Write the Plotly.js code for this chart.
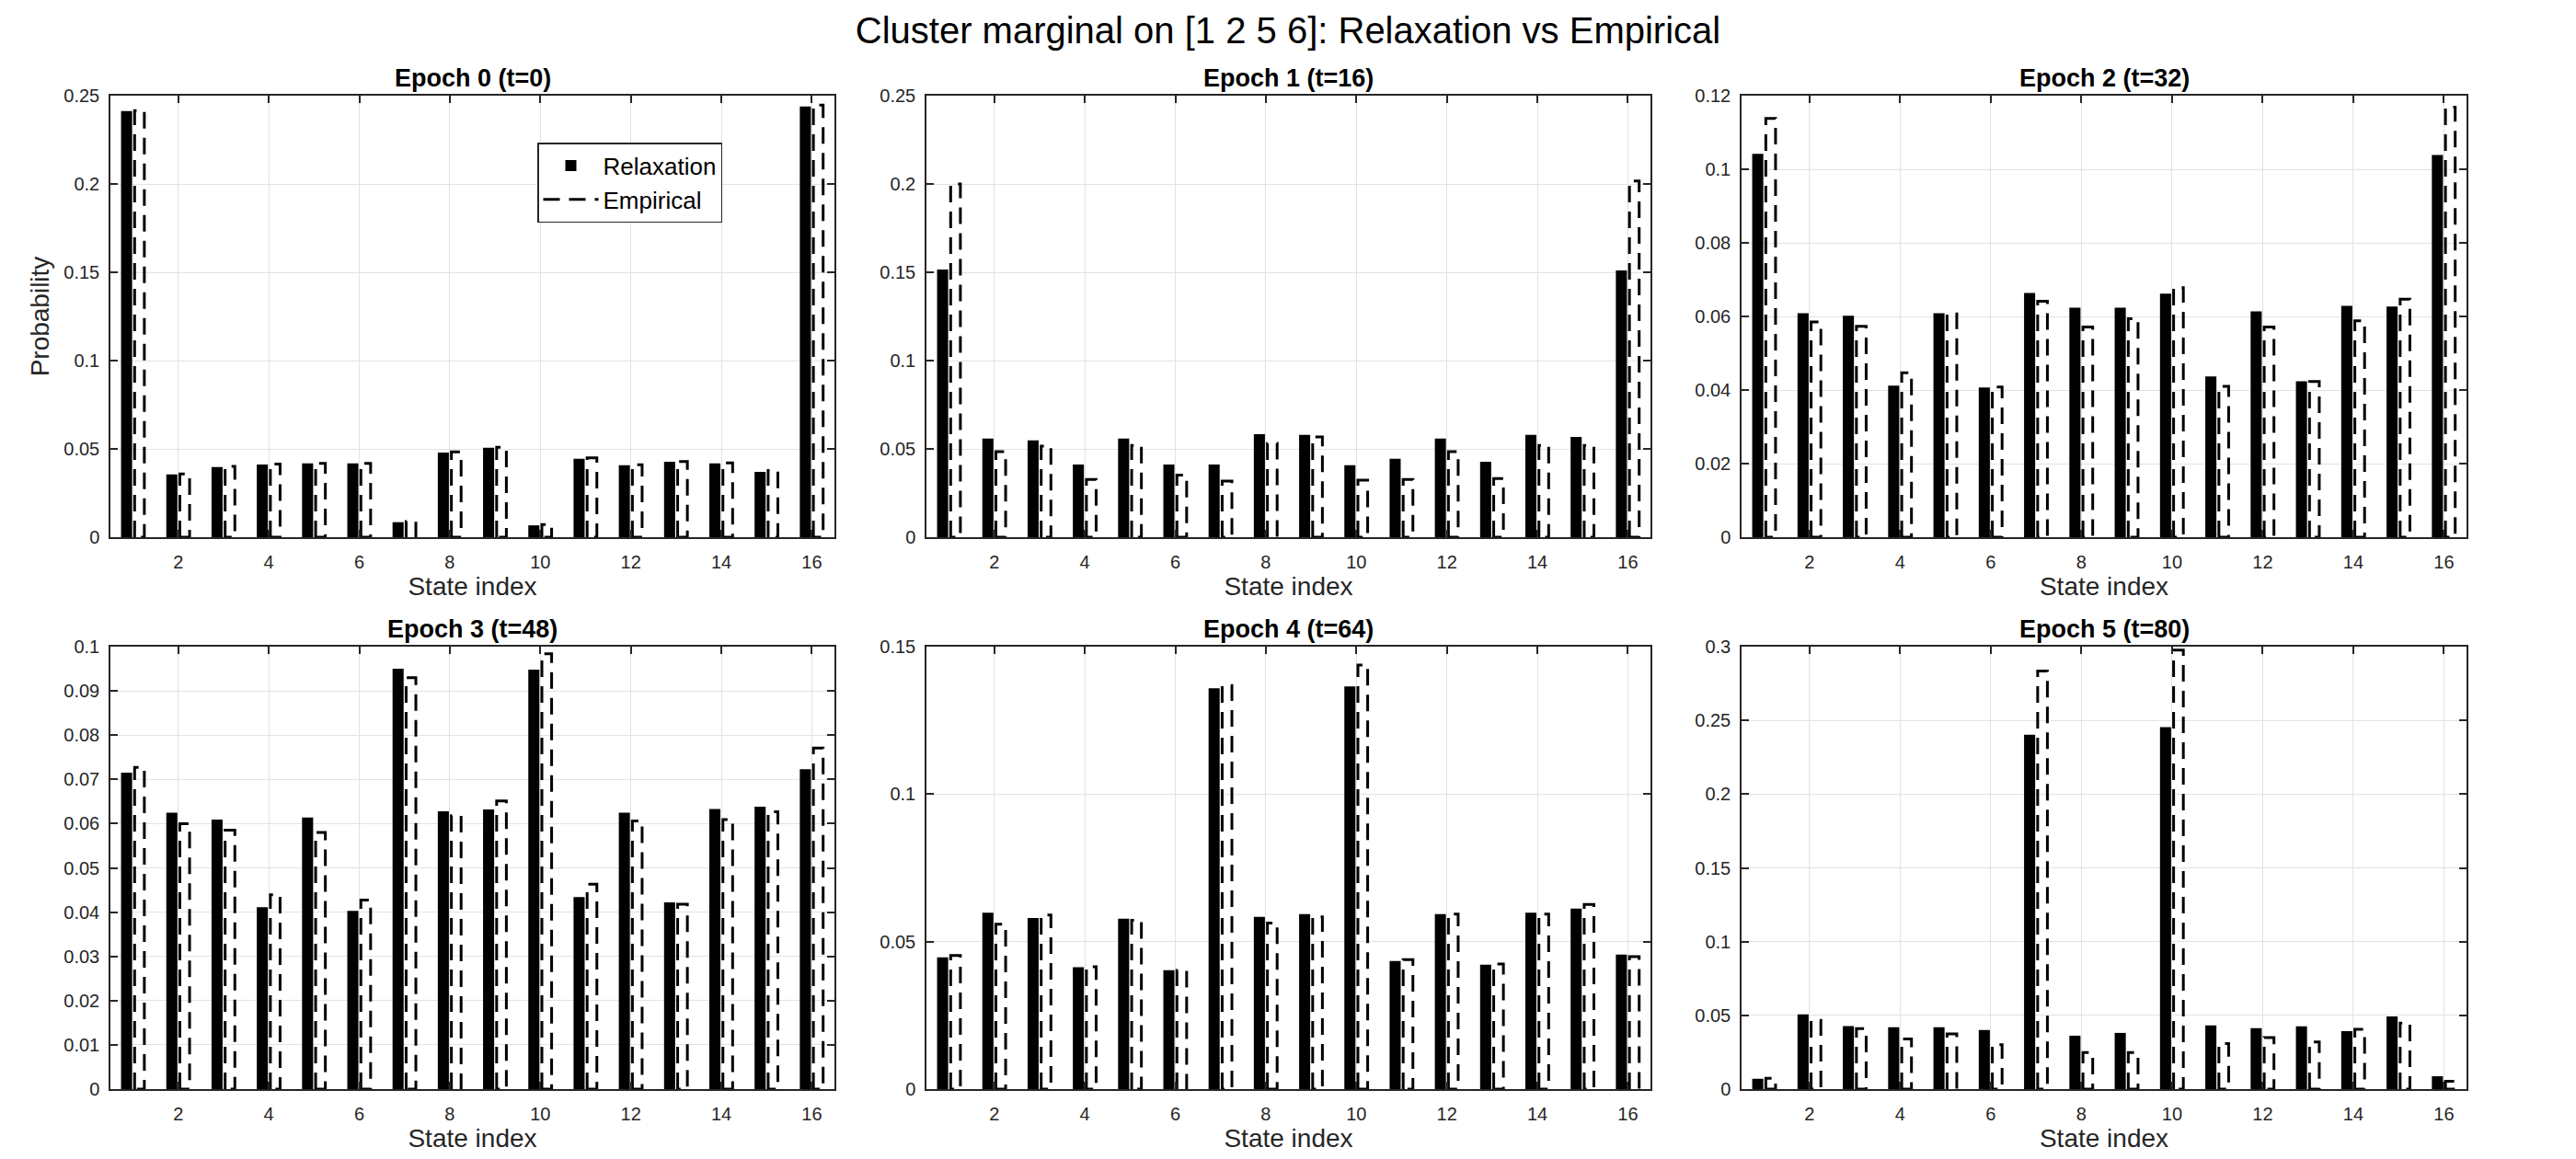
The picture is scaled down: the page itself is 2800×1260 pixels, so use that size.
<!DOCTYPE html>
<html>
<head>
<meta charset="utf-8">
<script src="https://cdn.plot.ly/plotly-3.0.1.min.js"></script>
<style>
  html, body { margin: 0; padding: 0; background: #ffffff; }
  #chart { width: 2800px; height: 1260px; }
</style>
</head>
<body>
<div id="chart"></div>
<script>
// ---------------- data ----------------
const states = [1, 2, 3, 4, 5, 6, 7, 8, 9, 10, 11, 12, 13, 14, 15, 16];
const xTickVals = [2, 4, 6, 8, 10, 12, 14, 16];

const epochTitles = ['Epoch 0 (t=0)', 'Epoch 1 (t=16)', 'Epoch 2 (t=32)',
                     'Epoch 3 (t=48)', 'Epoch 4 (t=64)', 'Epoch 5 (t=80)'];

const relax0 = [0.2413, 0.0355, 0.0397, 0.0412, 0.0418, 0.0418, 0.0085, 0.0479,
                0.0507, 0.0067, 0.0444, 0.0407, 0.0427, 0.0418, 0.0370, 0.2439];
const emp0   = [0.2416, 0.0358, 0.0401, 0.0414, 0.0418, 0.0418, 0.0089, 0.0483,
                0.0509, 0.0072, 0.0449, 0.0410, 0.0429, 0.0420, 0.0377, 0.2446];

const relax1 = [0.1516, 0.0559, 0.0548, 0.0412, 0.0559, 0.0412, 0.0412, 0.0583,
                0.0579, 0.0407, 0.0444, 0.0559, 0.0427, 0.0579, 0.0568, 0.1510];
const emp1   = [0.2000, 0.0485, 0.0516, 0.0327, 0.0520, 0.0351, 0.0318, 0.0531,
                0.0568, 0.0323, 0.0327, 0.0485, 0.0332, 0.0520, 0.0520, 0.2017];

const relax2 = [0.1042, 0.0609, 0.0602, 0.0412, 0.0609, 0.0407, 0.0664, 0.0624,
                0.0624, 0.0662, 0.0437, 0.0614, 0.0424, 0.0629, 0.0627, 0.1039];
const emp2   = [0.1138, 0.0585, 0.0573, 0.0447, 0.0607, 0.0408, 0.0641, 0.0571,
                0.0594, 0.0678, 0.0410, 0.0571, 0.0423, 0.0588, 0.0647, 0.1169];

const relax3 = [0.0715, 0.0625, 0.0609, 0.0411, 0.0614, 0.0403, 0.0950, 0.0628,
                0.0632, 0.0948, 0.0434, 0.0625, 0.0422, 0.0633, 0.0638, 0.0723];
const emp3   = [0.0727, 0.0600, 0.0585, 0.0439, 0.0580, 0.0427, 0.0930, 0.0618,
                0.0651, 0.0984, 0.0463, 0.0606, 0.0418, 0.0609, 0.0627, 0.0771];

const relax4 = [0.0447, 0.0598, 0.0580, 0.0413, 0.0578, 0.0403, 0.1359, 0.0584,
                0.0593, 0.1365, 0.0434, 0.0593, 0.0422, 0.0598, 0.0612, 0.0456];
const emp4   = [0.0453, 0.0559, 0.0590, 0.0415, 0.0572, 0.0402, 0.1368, 0.0563,
                0.0584, 0.1438, 0.0439, 0.0593, 0.0424, 0.0593, 0.0626, 0.0449];

const relax5 = [0.0070, 0.0507, 0.0427, 0.0420, 0.0420, 0.0400, 0.2403, 0.0362,
                0.0381, 0.2454, 0.0432, 0.0413, 0.0425, 0.0393, 0.0493, 0.0087];
const emp5   = [0.0073, 0.0466, 0.0410, 0.0340, 0.0374, 0.0301, 0.2835, 0.0248,
                0.0248, 0.2976, 0.0308, 0.0350, 0.0320, 0.0405, 0.0447, 0.0053];

const relaxAll = [relax0, relax1, relax2, relax3, relax4, relax5];
const empAll   = [emp0, emp1, emp2, emp3, emp4, emp5];

// ---------------- layout / style config ----------------
const yTop  = [0.25, 0.25, 0.12, 0.1, 0.15, 0.3];
const yStep = [0.05, 0.05, 0.02, 0.01, 0.05, 0.05];

const W = 2800, H = 1260;
const colPx = [[120, 907], [1007, 1794], [1893, 2681]];
const rowPx = [[104, 584], [703, 1184]];

const FONT = 'Liberation Sans, Arial, Helvetica, sans-serif';
const INK = '#262626';
const DASH = '18px,10px';

// bar geometry relative to state index (data units)
const RELAX_OFFSET = -0.265, RELAX_WIDTH = 0.245;
const EMP_L = 0.035, EMP_R = 0.25;

function outline(vals) {
  const xs = [], ys = [];
  vals.forEach((v, k) => {
    const a = states[k] + EMP_L, b = states[k] + EMP_R;
    xs.push(a, a, b, b, a, null);
    ys.push(0, v, v, 0, 0, null);
  });
  return { xs, ys };
}

const traces = [];
const layout = {
  width: W, height: H,
  margin: { l: 0, r: 0, t: 0, b: 0 },
  paper_bgcolor: '#ffffff',
  plot_bgcolor: '#ffffff',
  showlegend: true,
  font: { family: FONT, color: INK },
  title: {
    text: 'Cluster marginal on [1 2 5 6]: Relaxation vs Empirical',
    font: { family: FONT, size: 40, color: '#000000' },
    x: 0.5, xanchor: 'center', xref: 'paper',
    y: 1 - 33 / H, yanchor: 'middle', yref: 'container'
  },
  legend: {
    x: 584 / W, y: 1 - 155 / H, xanchor: 'left', yanchor: 'top',
    xref: 'paper', yref: 'paper',
    bgcolor: '#ffffff', bordercolor: INK, borderwidth: 1.5,
    font: { family: FONT, size: 26, color: '#000000' },
    itemwidth: 60, tracegroupgap: 0
  },
  annotations: [],
  bargap: 0.44
};

for (let p = 0; p < 6; p++) {
  const r = Math.floor(p / 3), c = p % 3;
  const sfx = p === 0 ? '' : String(p + 1);
  const xa = 'x' + sfx, ya = 'y' + sfx;

  traces.push({
    type: 'bar', name: 'Relaxation', x: states, y: relaxAll[p],
    xaxis: xa, yaxis: ya,
    width: RELAX_WIDTH, offset: RELAX_OFFSET,
    marker: { color: '#000000', line: { width: 0 } },
    showlegend: p === 0, legendgroup: 'relax'
  });
  const o = outline(empAll[p]);
  traces.push({
    type: 'scatter', mode: 'lines', name: 'Empirical', x: o.xs, y: o.ys,
    xaxis: xa, yaxis: ya, connectgaps: false,
    line: { color: '#000000', width: 3, dash: DASH },
    showlegend: p === 0, legendgroup: 'emp'
  });

  const common = {
    showline: true, linecolor: INK, linewidth: 1.5, mirror: 'ticks',
    ticks: 'inside', ticklen: 8, tickwidth: 1.5, tickcolor: INK,
    showgrid: true, gridcolor: '#e2e2e2', gridwidth: 1,
    zeroline: false, fixedrange: true,
    tickfont: { family: FONT, size: 20, color: INK }
  };

  layout['xaxis' + sfx] = Object.assign({}, common, {
    domain: [colPx[c][0] / W, colPx[c][1] / W],
    anchor: ya, range: [0.5, 16.5],
    tickmode: 'array', tickvals: xTickVals, ticktext: xTickVals.map(String),
    ticklabelstandoff: 8,
    title: { text: 'State index', font: { family: FONT, size: 28, color: INK }, standoff: 6 }
  });
  layout['yaxis' + sfx] = Object.assign({}, common, {
    domain: [1 - rowPx[r][1] / H, 1 - rowPx[r][0] / H],
    anchor: xa, range: [0, yTop[p]],
    tick0: 0, dtick: yStep[p],
    ticklabelstandoff: 6,
    title: p === 0
      ? { text: 'Probability', font: { family: FONT, size: 28, color: INK }, standoff: 8 }
      : { text: '' }
  });

  layout.annotations.push({
    text: '<b>' + epochTitles[p] + '</b>',
    xref: 'paper', yref: 'paper',
    x: (colPx[c][0] + colPx[c][1]) / 2 / W,
    y: 1 - (rowPx[r][0] - 19) / H,
    xanchor: 'center', yanchor: 'middle', showarrow: false,
    font: { family: FONT, size: 27, color: '#000000' }
  });
}

Plotly.newPlot('chart', traces, layout, { displayModeBar: false, responsive: false });
</script>
</body>
</html>
